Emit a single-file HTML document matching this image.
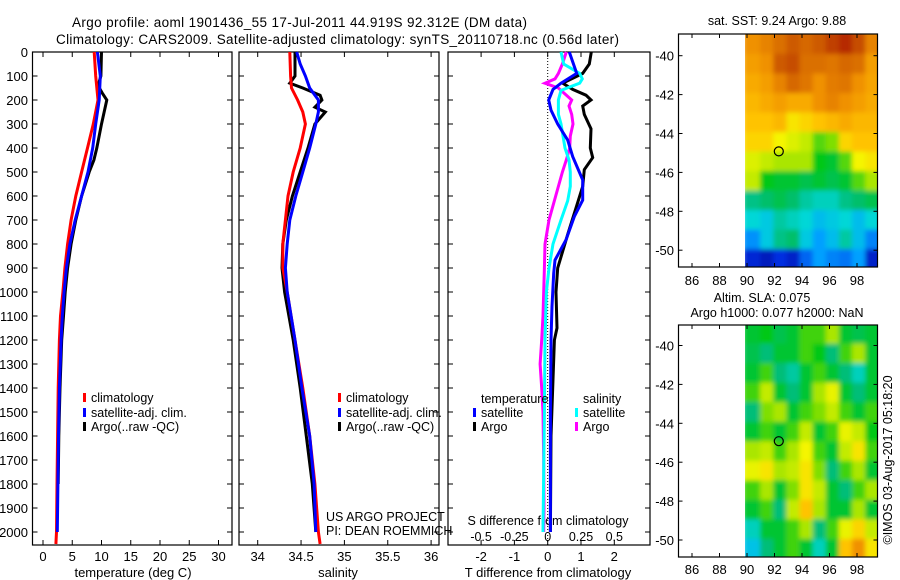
<!DOCTYPE html>
<html><head><meta charset="utf-8">
<style>
html,body{margin:0;padding:0;background:#fff;}
svg{display:block;font-family:"Liberation Sans",sans-serif;}
</style></head>
<body>
<svg id="chart" width="900" height="580" viewBox="0 0 900 580" xmlns="http://www.w3.org/2000/svg">
<defs>
<filter id="mblur" x="0" y="0" width="1" height="1"><feGaussianBlur stdDeviation="2.5" edgeMode="duplicate"/></filter>
<clipPath id="clipA"><rect x="745" y="34" width="133" height="233"/></clipPath>
<clipPath id="clipB"><rect x="745" y="325" width="133" height="232"/></clipPath>
</defs>
</svg>
<script>
// ---- data ----
const tempTicks=[0,5,10,15,20,25,30];
const salTicks=[34,34.5,35,35.5,36];
const salTickLabels=["34","34.5","35","35.5","36"];
const diffTTicks=[-2,-1,0,1,2];
const diffSTicks=[-0.5,-0.25,0,0.25,0.5];
const diffSTickLabels=["-0.5","-0.25","0","0.25","0.5"];
const depthTicks=[0,100,200,300,400,500,600,700,800,900,1000,1100,1200,1300,1400,1500,1600,1700,1800,1900,2000];
const lonTicks=[86,88,90,92,94,96,98];
const latTicks=[-40,-42,-44,-46,-48,-50];

const tClimDepth=[0,100,200,300,400,500,600,700,800,900,1000,1100,1200,1400,1600,1800,2000,2050];
const tClim=[8.75,9.0,9.4,8.6,7.6,6.6,5.6,4.8,4.2,3.75,3.4,3.0,2.8,2.6,2.5,2.4,2.3,2.2];
const tSatDepth=[0,100,200,300,400,500,600,700,800,900,1000,1100,1200,1400,1600,1800,2000];
const tSat=[9.3,9.8,9.6,9.0,8.5,7.7,6.6,5.5,4.6,4.0,3.6,3.3,3.1,2.8,2.65,2.55,2.45];
const tArgoDepth=[0,100,140,170,200,300,400,450,500,600,700,800,900,1000,1100,1200,1400,1600,1800];
const tArgo=[10.0,9.9,9.4,10.1,10.9,10.0,9.2,8.7,7.9,6.6,5.6,4.8,4.2,3.8,3.5,3.2,2.9,2.7,2.6];

const sClimDepth=[0,100,150,200,250,300,400,500,600,700,800,900,1000,1200,1400,1600,1800,2000,2050];
const sClim=[34.37,34.38,34.39,34.46,34.52,34.55,34.49,34.41,34.35,34.32,34.29,34.29,34.34,34.43,34.52,34.6,34.66,34.7,34.72];
const sSatDepth=[0,50,100,150,200,250,300,400,500,600,700,800,900,1000,1200,1400,1600,1800,2000];
const sSat=[34.45,34.49,34.55,34.6,34.7,34.7,34.67,34.6,34.52,34.44,34.37,34.34,34.32,34.34,34.43,34.51,34.6,34.65,34.67];
const sArgoDepth=[0,100,130,150,180,200,230,250,300,400,500,600,700,800,900,1000,1200,1400,1600,1800,2000];
const sArgo=[34.43,34.43,34.37,34.52,34.72,34.74,34.66,34.78,34.66,34.58,34.49,34.4,34.33,34.29,34.28,34.31,34.41,34.49,34.56,34.63,34.67];

const dTSatDepth=[0,89,130,156,200,242,300,367,436,533,617,686,783,867,922,1060,1200,1500,2000];
const dTSat=[0.65,0.87,0.4,0.16,0.03,0.1,0.3,0.6,0.75,1.05,1.05,0.8,0.55,0.22,0.18,0.13,0.1,0.08,0.08];
const dTArgoDepth=[0,50,89,130,156,180,200,225,260,320,400,440,490,560,650,760,900,1000,1150,1200,1400,1600,2000];
const dTArgo=[1.31,1.25,1.05,0.45,0.75,1.15,1.3,1.05,1.1,1.3,1.28,1.35,1.1,1.05,0.85,0.6,0.3,0.25,0.28,0.2,0.15,0.1,0.08];
const dSArgoDepth=[0,50,89,112,130,150,200,225,260,300,350,400,450,500,600,700,800,900,1000,1100,1200,1300,1400,1500,1700,1900,2000];
const dSArgo=[0.14,0.11,0.08,0.055,-0.02,0.08,0.18,0.16,0.18,0.19,0.17,0.165,0.14,0.11,0.06,0.01,-0.02,-0.025,-0.03,-0.035,-0.045,-0.057,-0.045,-0.035,-0.03,-0.028,-0.03];
const dSSatDepth=[0,50,89,112,130,160,200,260,300,400,450,500,560,620,700,800,900,1000,1200,1500,2000];
const dSSat=[0.1,0.12,0.24,0.26,0.24,0.1,0.08,0.08,0.1,0.13,0.16,0.17,0.17,0.15,0.1,0.04,0.01,-0.01,-0.02,-0.025,-0.035];

const sstGrid=[
[.80,.82,.85,.88,.86,.88,.92,.95,.90,.82],
[.78,.80,.88,.90,.85,.85,.84,.86,.85,.78],
[.76,.78,.82,.86,.84,.80,.83,.84,.80,.77],
[.74,.76,.78,.76,.76,.80,.82,.80,.78,.76],
[.72,.72,.74,.68,.70,.72,.74,.76,.74,.74],
[.70,.70,.66,.64,.62,.56,.58,.70,.72,.72],
[.64,.62,.60,.60,.60,.52,.50,.56,.66,.68],
[.62,.52,.50,.50,.48,.50,.48,.50,.56,.60],
[.44,.46,.48,.46,.42,.40,.40,.44,.46,.48],
[.38,.36,.42,.40,.38,.34,.36,.38,.34,.38],
[.28,.36,.44,.46,.36,.30,.34,.42,.34,.26],
[.12,.08,.14,.10,.22,.30,.26,.24,.30,.10]];
const slaGrid=[
[.50,.52,.48,.50,.55,.55,.60,.50,.48,.50],
[.48,.45,.50,.50,.55,.52,.45,.55,.60,.50],
[.50,.55,.45,.42,.50,.55,.50,.45,.40,.50],
[.55,.62,.50,.45,.50,.60,.65,.50,.45,.50],
[.45,.58,.60,.50,.55,.58,.62,.55,.50,.55],
[.50,.55,.50,.55,.62,.50,.55,.65,.62,.52],
[.60,.62,.55,.60,.66,.55,.50,.62,.68,.55],
[.65,.68,.60,.62,.68,.58,.45,.55,.60,.50],
[.55,.60,.50,.58,.68,.62,.50,.45,.55,.60],
[.50,.55,.45,.62,.72,.60,.50,.50,.60,.50],
[.40,.50,.50,.55,.60,.45,.55,.65,.70,.62],
[.35,.45,.50,.55,.50,.40,.50,.72,.80,.68]];
const floatLon=92.312, floatLat=-44.919;

// ---- helpers ----
const NS="http://www.w3.org/2000/svg";
const svg=document.getElementById('chart');
function mk(tag,attrs,parent){const e=document.createElementNS(NS,tag);for(const k in attrs)e.setAttribute(k,attrs[k]);(parent||svg).appendChild(e);return e;}
function txt(s,x,y,anchor,size,parent){const t=mk('text',{x:x,y:y,'text-anchor':anchor||'middle','font-size':size||13,fill:'#000'},parent);t.textContent=s;return t;}

const yTop=52, yBot=545;
const yD=d=>yTop+d*0.24;

function frame(x0,x1,name){
  const r=mk('rect',{x:x0,y:yTop,width:x1-x0,height:yBot-yTop,fill:'none',stroke:'#000','stroke-width':1.2});
  
  
  depthTicks.forEach(d=>{
    mk('line',{x1:x0,x2:x0+5,y1:yD(d),y2:yD(d),stroke:'#000'});
    mk('line',{x1:x1,x2:x1-5,y1:yD(d),y2:yD(d),stroke:'#000'});
  });
}
function xTicks(vals,labels,xf,name,ly){
  const g=mk('g',{});
  
  
  vals.forEach((v,i)=>{
    const x=xf(v);
    mk('line',{x1:x,x2:x,y1:yBot,y2:yBot-5,stroke:'#000'},g);
    mk('line',{x1:x,x2:x,y1:yTop,y2:yTop+5,stroke:'#000'},g);
    txt(labels?labels[i]:String(v),x,ly||561,'middle',13,g);
  });
}
function line(xs,ds,xf,color,name){
  const p=mk('polyline',{points:xs.map((v,i)=>xf(v).toFixed(1)+','+yD(ds[i]).toFixed(1)).join(' '),fill:'none',stroke:color,'stroke-width':3,'stroke-linejoin':'miter'});
  
  
}
function legendEntry(x,y,color,label,name){
  const g=mk('g',{});
  
  
  mk('rect',{x:x,y:y-9,width:3,height:9,fill:color},g);
  txt(label,x+8,y,'start',12.5,g);
}

// ---- titles ----
const t1=txt('Argo profile: aoml 1901436_55 17-Jul-2011 44.919S 92.312E (DM data)',72,27,'start',13.5);
t1.setAttribute('textLength',455);


const t2=txt('Climatology: CARS2009. Satellite-adjusted climatology: synTS_20110718.nc (0.56d later)',56,44,'start',13.5);
t2.setAttribute('textLength',563);



// ---- panel 1 temperature ----
const P1=[32.5,232];
const xT=t=>43+t*5.85;
frame(P1[0],P1[1],'temperature-panel');
const yl=mk('g',{});


depthTicks.forEach(d=>txt(String(d),28,yD(d)+5,'end',13,yl));
xTicks(tempTicks,null,xT,'temperature-x-axis');
const xl1=txt('temperature (deg C)',133,577,'middle',13);


line(tArgo,tArgoDepth,xT,'#000','temp-argo-line');
line(tClim,tClimDepth,xT,'#f00','temp-climatology-line');
line(tSat,tSatDepth,xT,'#00f','temp-satellite-line');
legendEntry(83,402,'#f00','climatology','legend-climatology');
legendEntry(83,417,'#00f','satellite-adj. clim.','legend-satellite');
legendEntry(83,431,'#000','Argo(..raw -QC)','legend-argo');

// ---- panel 2 salinity ----
const P2=[239,439];
const xS=s=>257.7+(s-34)*86.7;
frame(P2[0],P2[1],'salinity-panel');
xTicks(salTicks,salTickLabels,xS,'salinity-x-axis');
const xl2=txt('salinity',338,577,'middle',13);


line(sArgo,sArgoDepth,xS,'#000','sal-argo-line');
line(sClim,sClimDepth,xS,'#f00','sal-climatology-line');
line(sSat,sSatDepth,xS,'#00f','sal-satellite-line');
legendEntry(338,402,'#f00','climatology','legend-climatology-2');
legendEntry(338,417,'#00f','satellite-adj. clim.','legend-satellite-2');
legendEntry(338,431,'#000','Argo(..raw -QC)','legend-argo-2');
const cr1=txt('US ARGO PROJECT',326,521,'start',12.5);


const cr2=txt('PI: DEAN ROEMMICH',326,535,'start',12.5);



// ---- panel 3 differences ----
const P3=[448,650];
const xDT=v=>547.7+v*33.3;
const xDS=v=>547.7+v*133.2;
frame(P3[0],P3[1],'difference-panel');
mk('line',{x1:547.7,x2:547.7,y1:yTop,y2:yBot,stroke:'#000','stroke-dasharray':'1,2'});
xTicks(diffTTicks,null,xDT,'t-difference-axis');
const xl3=txt('T difference from climatology',548,577,'middle',13);


const sAx=mk('g',{});


diffSTicks.forEach((v,i)=>txt(diffSTickLabels[i],xDS(v),541,'middle',12.5,sAx));
const sT=txt('S difference from climatology',548,525,'middle',12.5);


line(dTArgo,dTArgoDepth,xDT,'#000','t-diff-argo-line');
line(dSArgo,dSArgoDepth,xDS,'#f0f','s-diff-argo-line');
line(dSSat,dSSatDepth,xDS,'#0ff','s-diff-satellite-line');
line(dTSat,dTSatDepth,xDT,'#00f','t-diff-satellite-line');
const lt=txt('temperature',481,403,'start',12.5);


legendEntry(473,417,'#00f','satellite','legend-t-satellite');
legendEntry(473,431,'#000','Argo','legend-t-argo');
const ls=txt('salinity',583,403,'start',12.5);


legendEntry(575,417,'#0ff','satellite','legend-s-satellite');
legendEntry(575,431,'#f0f','Argo','legend-s-argo');

// ---- maps ----
const cmapStops=[[0,[0,0,140]],[0.15,[0,50,230]],[0.3,[0,160,255]],[0.38,[0,215,215]],[0.45,[0,190,120]],[0.52,[0,200,20]],[0.6,[170,230,0]],[0.66,[245,245,0]],[0.72,[255,195,0]],[0.8,[240,145,0]],[0.88,[205,90,0]],[1,[165,10,0]]];
function cmap(v){
  v=Math.max(0,Math.min(1,v));
  for(let i=1;i<cmapStops.length;i++){
    const [a,ca]=cmapStops[i-1],[b,cb]=cmapStops[i];
    if(v<=b){const f=(v-a)/(b-a);return 'rgb('+ca.map((c,k)=>Math.round(c+(cb[k]-c)*f)).join(',')+')';}
  }
  return 'rgb(165,10,0)';
}
const mX0=678.5, mX1=877.5;
const xLon=l=>692+(l-86)*13.75;
function map(grid,top,bot,latRef,name,lonLabelY,clip){
  const g=mk('g',{});
  
  
  const yLat=la=>latRef+(-40-la)*19.45;
  const rows=grid.length, cols=grid[0].length;
  const lat0=-38.9, lat1=-50.95, lon0=90, lon1=99.55;
  const cw=(xLon(lon1)-xLon(lon0))/cols, ch=(yLat(lat1)-yLat(lat0))/rows;
  const cg=mk('g',{'clip-path':'url(#'+clip+')'},g);
  const bg=mk('g',{filter:'url(#mblur)'},cg);
  grid.forEach((row,r)=>row.forEach((v,c)=>{
    mk('rect',{x:(xLon(lon0)+c*cw-(c==0?4:0)).toFixed(2),y:(yLat(lat0)+r*ch-(r==0?4:0)).toFixed(2),width:(cw+0.6+(c==0||c==cols-1?4:0)).toFixed(2),height:(ch+0.6+(r==0||r==rows-1?4:0)).toFixed(2),fill:cmap(v)},bg);
  }));
  mk('rect',{x:mX0,y:top,width:mX1-mX0,height:bot-top,fill:'none',stroke:'#000','stroke-width':1.2},g);
  lonTicks.forEach(l=>{
    mk('line',{x1:xLon(l),x2:xLon(l),y1:bot,y2:bot-4,stroke:'#000'},g);
    mk('line',{x1:xLon(l),x2:xLon(l),y1:top,y2:top+4,stroke:'#000'},g);
    txt(String(l),xLon(l),lonLabelY,'middle',13,g);
  });
  latTicks.forEach(la=>{
    mk('line',{x1:mX0,x2:mX0+4,y1:yLat(la),y2:yLat(la),stroke:'#000'},g);
    mk('line',{x1:mX1,x2:mX1-4,y1:yLat(la),y2:yLat(la),stroke:'#000'},g);
    txt(String(la),674,yLat(la)+5,'end',13,g);
  });
  mk('circle',{cx:xLon(floatLon),cy:yLat(floatLat),r:4.5,fill:'none',stroke:'#000','stroke-width':1.2},g);
}
map(sstGrid,34,267,55.7,'sst-map',285,'clipA');
map(slaGrid,325,557,345.5,'sla-map',574,'clipB');
const st=txt('sat. SST: 9.24  Argo: 9.88',777,25,'middle',12.5);


const a1=txt('Altim. SLA: 0.075',762,302,'middle',12.5);


const a2=txt('Argo h1000: 0.077 h2000: NaN',777,317,'middle',12.5);


const im=txt('©IMOS 03-Aug-2017 05:18:20',0,0,'middle',12.5);
im.setAttribute('transform','translate(892,460) rotate(-90)');


</script>
</body></html>
